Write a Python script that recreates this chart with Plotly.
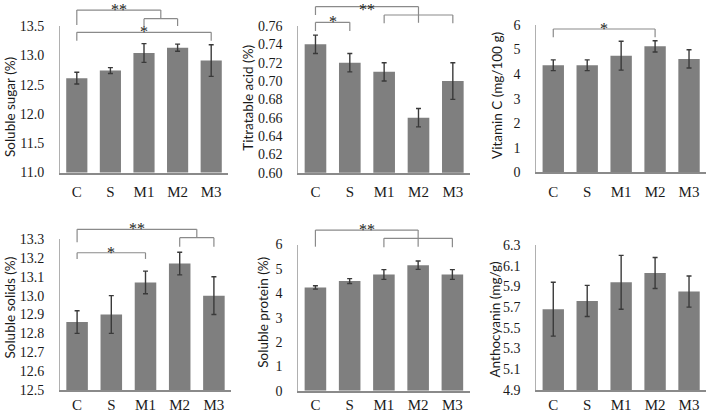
import plotly.graph_objects as go
from plotly.subplots import make_subplots

# ---------------- data ----------------
categories = ["C", "S", "M1", "M2", "M3"]

sugar = [12.61, 12.74, 13.04, 13.13, 12.91]
sugar_err = [0.10, 0.05, 0.16, 0.06, 0.27]

acid = [0.74, 0.72, 0.71, 0.66, 0.70]
acid_err = [0.01, 0.01, 0.01, 0.01, 0.02]

vitc = [4.36, 4.36, 4.75, 5.13, 4.62]
vitc_err = [0.22, 0.22, 0.59, 0.23, 0.37]

solids = [12.86, 12.90, 13.07, 13.17, 13.00]
solids_err = [0.06, 0.10, 0.06, 0.06, 0.10]

protein = [4.24, 4.50, 4.77, 5.15, 4.77]
protein_err = [0.07, 0.10, 0.20, 0.17, 0.20]

antho = [5.68, 5.76, 5.94, 6.03, 5.85]
antho_err = [0.26, 0.15, 0.26, 0.15, 0.15]

titles = ["Soluble sugar (%)", "Titratable acid (%)", "Vitamin C (mg/100 g)",
          "Soluble solids (%)", "Soluble protein (%)", "Anthocyanin (mg/g)"]

sugar_ticks = [11.0, 11.5, 12.0, 12.5, 13.0, 13.5]
acid_ticks = [0.60, 0.62, 0.64, 0.66, 0.68, 0.70, 0.72, 0.74, 0.76]
vitc_ticks = [0, 1, 2, 3, 4, 5, 6]
solids_ticks = [12.5, 12.6, 12.7, 12.8, 12.9, 13.0, 13.1, 13.2, 13.3]
protein_ticks = [0, 1, 2, 3, 4, 5, 6]
antho_ticks = [4.9, 5.1, 5.3, 5.5, 5.7, 5.9, 6.1, 6.3]

# ---------------- layout helpers ----------------
W, H = 709, 414
BAR = "#7f7f7f"
ERR = "#3a3a3a"
LINE = "#8a8a8a"
SERIF = "Liberation Serif"
SANS = "Lato"

panels = [
    dict(vals=sugar, err=sugar_err, ticks=sugar_ticks, fmt=".1f", xd=(60, 228), yd=(26, 172.5),
         title=titles[0], tx=10, ty=107, xtl=5),
    dict(vals=acid, err=acid_err, ticks=acid_ticks, fmt=".2f", xd=(298.3, 470), yd=(26, 172.7),
         title=titles[1], tx=247.7, ty=98, xtl=5),
    dict(vals=vitc, err=vitc_err, ticks=vitc_ticks, fmt="d", xd=(536.3, 706), yd=(25, 172.3),
         title=titles[2], tx=497, ty=96, xtl=5),
    dict(vals=solids, err=solids_err, ticks=solids_ticks, fmt=".1f", xd=(60, 231), yd=(239, 390),
         title=titles[3], tx=9.5, ty=308, xtl=0),
    dict(vals=protein, err=protein_err, ticks=protein_ticks, fmt="d", xd=(298.3, 469.5), yd=(244.5, 390.7),
         title=titles[4], tx=262.7, ty=312, xtl=0),
    dict(vals=antho, err=antho_err, ticks=antho_ticks, fmt=".1f", xd=(536.3, 706), yd=(245, 390),
         title=titles[5], tx=494.5, ty=320, xtl=0),
]

# significance brackets: (panel, label, left idx, right pos, y_top, y_left_bottom, y_right_bottom, label shift px)
# heights in domain units of the subplot; right pos may be fractional category index
brackets = [
    (0, "**", 0, 2.5, 1.109, 1.007, 1.050, -10),
    (0, "", 2, 3, 1.050, 1.000, 1.000, 0),
    (0, "*", 0, 4, 0.957, 0.900, 0.900, -10),
    (1, "**", 0, 3, 1.132, 1.075, 1.022, -13),
    (1, "", 2, 4, 1.075, 1.018, 1.018, 0),
    (1, "*", 0, 1, 1.025, 0.966, 0.966, -10),
    (2, "*", 0, 3, 0.973, 0.917, 0.917, -10),
    (3, "**", 0, 3.5, 1.064, 0.978, 1.009, -10),
    (3, "", 3, 4, 1.009, 0.949, 0.949, 0),
    (3, "*", 0, 2, 0.909, 0.868, 0.868, -10),
    (4, "**", 0, 3, 1.099, 0.985, 0.985, -10),
    (4, "", 2, 4, 1.042, 0.981, 0.981, 0),
]

fig = make_subplots(rows=2, cols=3)

for k, p in enumerate(panels):
    r, c = k // 3 + 1, k % 3 + 1
    fig.add_trace(go.Bar(
        x=categories, y=p["vals"], marker=dict(color=BAR, line=dict(width=0)),
        error_y=dict(type="data", array=p["err"], visible=True, color=ERR, thickness=1.4, width=2.5),
        showlegend=False, hoverinfo="skip",
    ), row=r, col=c)
    ax = "" if k == 0 else str(k + 1)
    x0, x1 = p["xd"]
    y0, y1 = p["yd"]
    fig.layout["xaxis" + ax].update(
        domain=[x0 / W, x1 / W], type="category", range=[-0.5, 4.5], automargin=False,
        showline=True, linecolor=LINE, linewidth=1.5, showgrid=False, zeroline=False,
        ticks="outside" if p["xtl"] else "", ticklen=max(p["xtl"], 1), tickcolor="rgba(0,0,0,0)",
        tickfont=dict(family=SERIF, size=15, color="#1a1a1a"),
    )
    fig.layout["yaxis" + ax].update(
        domain=[1 - y1 / H, 1 - y0 / H], range=[p["ticks"][0], p["ticks"][-1]], automargin=False,
        tickvals=p["ticks"], tickformat=p["fmt"],
        showline=True, linecolor="#b0b0b0", linewidth=1, showgrid=False, zeroline=False,
        ticks="outside", ticklen=12, tickcolor="rgba(0,0,0,0)",
        tickfont=dict(family=SERIF, size=14, color="#1a1a1a"),
    )
    fig.add_annotation(
        text=p["title"], xref="paper", yref="paper", x=p["tx"] / W, y=1 - p["ty"] / H,
        textangle=-90, showarrow=False, font=dict(family=SANS, size=13.5, color="#1a1a1a"),
        xanchor="center", yanchor="middle",
    )

for (k, label, li, ri, yt, ylb, yrb, shift) in brackets:
    ax = "" if k == 0 else str(k + 1)
    xr, yr = "x" + ax + " domain", "y" + ax + " domain"
    xl = (li + 0.5) / 5
    xrr = (ri + 0.5) / 5
    line = dict(color=LINE, width=1.2)
    fig.add_shape(type="line", xref=xr, yref=yr, x0=xl, x1=xrr, y0=yt, y1=yt, line=line)
    fig.add_shape(type="line", xref=xr, yref=yr, x0=xl, x1=xl, y0=yt, y1=ylb, line=line)
    fig.add_shape(type="line", xref=xr, yref=yr, x0=xrr, x1=xrr, y0=yt, y1=yrb, line=line)
    if label:
        fig.add_annotation(
            text=label, xref=xr, yref=yr, x=(xl + xrr) / 2, y=yt, showarrow=False,
            xanchor="center", yanchor="bottom", yshift=shift,
            font=dict(family=SERIF, size=16, color="#222222"),
        )

fig.update_layout(
    width=W, height=H, margin=dict(l=0, r=0, t=0, b=0, autoexpand=False),
    paper_bgcolor="white", plot_bgcolor="white", bargap=0.37,
)

fig.write_html(
    "out.html",
    config={"displayModeBar": False},
    post_script="document.body.style.margin='0';document.body.style.overflow='hidden';",
)
